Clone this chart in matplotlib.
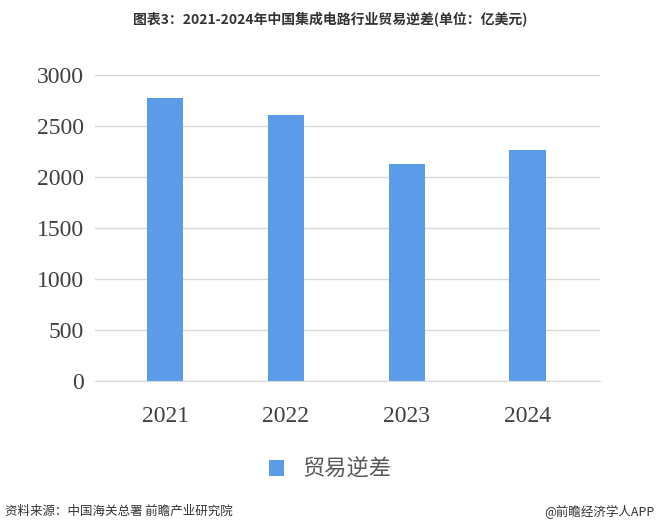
import matplotlib
matplotlib.use('Agg')
import matplotlib.pyplot as plt

years = ['2021', '2022', '2023', '2024']
deficit = [2774, 2608, 2127, 2265]

plt.rcParams['font.family'] = ['Noto Sans CJK SC', 'DejaVu Sans']

fig = plt.figure(figsize=(6.6, 5.32), dpi=100)
ax = fig.add_axes([0.144, 0.284, 0.765, 0.575])

ax.bar(range(len(years)), deficit, width=0.3, color='#5b9be8', label='贸易逆差', zorder=2)
ax.set_ylim(0, 3000)
ax.set_xlim(-0.58, 3.6)
ax.set_yticks(range(0, 3001, 500))
ax.set_xticks(range(len(years)))
ax.set_xticklabels(years)
ax.grid(axis='y', color='#d9d9d9', linewidth=1, zorder=0)
for s in ['top', 'right', 'left']:
    ax.spines[s].set_visible(False)
ax.spines['bottom'].set_color('#d9d9d9')
ax.tick_params(length=0, labelsize=17, labelcolor='#404040', pad=8)
ax.tick_params(axis='x', pad=18)
for lab in ax.get_xticklabels() + ax.get_yticklabels():
    lab.set_family('Liberation Serif')

fig.legend(loc='center', bbox_to_anchor=(0.5, 0.118), frameon=False, fontsize=16,
           handlelength=0.7, handleheight=0.7, labelcolor='#595959')

fig.text(0.5, 0.963, '图表3：2021-2024年中国集成电路行业贸易逆差(单位：亿美元)',
         ha='center', va='center', fontsize=10, fontweight='bold', color='#333333')
fig.text(0.008, 0.038, '资料来源：中国海关总署 前瞻产业研究院', ha='left', va='center',
         fontsize=9, color='#333333')
fig.text(0.992, 0.038, '@前瞻经济学人APP', ha='right', va='center',
         fontsize=9, color='#333333')

fig.savefig('out.png', dpi=100)
